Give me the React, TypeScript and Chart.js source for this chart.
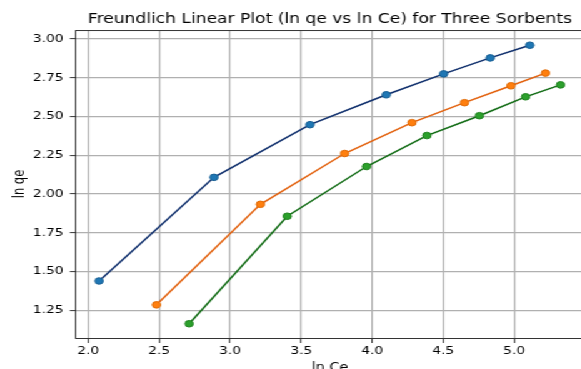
import React, { useEffect, useRef } from "react";
import { Chart, registerables } from "chart.js";

Chart.register(...registerables);

const titleText = "Freundlich Linear Plot (ln qe vs ln Ce) for Three Sorbents";
const xLabel = "ln Ce";
const yLabel = "ln qe";

const xTicks = [2.0, 2.5, 3.0, 3.5, 4.0, 4.5, 5.0];
const yTicks = [1.25, 1.5, 1.75, 2.0, 2.25, 2.5, 2.75, 3.0];

const seriesNames = ["Sorbent 1", "Sorbent 2", "Sorbent 3"];
const blueX = [2.077, 2.886, 3.562, 4.099, 4.503, 4.831, 5.11];
const blueY = [1.438, 2.107, 2.447, 2.64, 2.775, 2.878, 2.96];
const orangeX = [2.481, 3.213, 3.806, 4.28, 4.65, 4.977, 5.22];
const orangeY = [1.284, 1.933, 2.261, 2.46, 2.589, 2.698, 2.78];
const greenX = [2.711, 3.402, 3.96, 4.385, 4.755, 5.08, 5.326];
const greenY = [1.162, 1.856, 2.177, 2.377, 2.505, 2.627, 2.704];

const FONT = "DejaVu Sans";
const STRETCH = 1.25;

const pts = (xs: number[], ys: number[]) => xs.map((x, i) => ({ x, y: ys[i] }));

const topSpine = {
  id: "topSpine",
  beforeDatasetsDraw(chart: any) {
    const { ctx, chartArea } = chart;
    ctx.save();
    ctx.strokeStyle = "#333";
    ctx.lineWidth = 1;
    ctx.beginPath();
    ctx.moveTo(chartArea.left, chartArea.top + 0.5);
    ctx.lineTo(chartArea.right, chartArea.top + 0.5);
    ctx.stroke();
    ctx.restore();
  },
};

export default function App() {
  const ref = useRef<HTMLCanvasElement>(null);
  useEffect(() => {
    if (!ref.current) return;
    const mk = (label: string, data: any, line: string, fill: string, edge: string) => ({
      label,
      data,
      borderColor: line,
      backgroundColor: fill,
      pointBackgroundColor: fill,
      pointBorderColor: edge,
      pointBorderWidth: 1,
      pointRadius: 3.3,
      borderWidth: 1.5,
      showLine: true,
      fill: false,
    });
    const chart = new Chart(ref.current, {
      type: "scatter",
      data: {
        datasets: [
          mk(seriesNames[0], pts(blueX, blueY), "#0d2d6b", "#1f77b4", "#185f94"),
          mk(seriesNames[1], pts(orangeX, orangeY), "#e2600c", "#ff7f0e", "#e06a05"),
          mk(seriesNames[2], pts(greenX, greenY), "#0f6a12", "#2ca02c", "#1e821e"),
        ],
      },
      options: {
        responsive: false,
        animation: false,
        devicePixelRatio: 1,
        layout: { padding: 0 },
        plugins: {
          legend: { display: false },
          tooltip: { enabled: false },
          title: {
            display: true,
            text: titleText,
            color: "#000",
            fullSize: false,
            font: { family: FONT, size: 13.7, weight: "normal" },
            padding: { top: 10.8, bottom: 2.8 },
          },
        },
        scales: {
          x: {
            type: "linear",
            min: 1.915,
            max: 5.49,
            afterBuildTicks: (s: any) => {
              s.ticks = xTicks.map((v) => ({ value: v }));
            },
            afterFit: (s: any) => {
              s.height = 42;
            },
            ticks: {
              color: "#000",
              font: { family: FONT, size: 11 },
              padding: 2,
              maxRotation: 0,
              callback: (v: any) => Number(v).toFixed(1),
            },
            grid: {
              color: "#b0b0b0",
              lineWidth: 1.2,
              tickLength: 5,
              tickColor: "#333",
              tickWidth: 1,
            },
            border: { display: true, color: "#333", width: 1 },
            title: {
              display: true,
              text: xLabel,
              color: "#000",
              font: { family: FONT, size: 11.5 },
              padding: { top: 0, bottom: 5.5 },
            },
          },
          y: {
            type: "linear",
            min: 1.07,
            max: 3.058,
            afterBuildTicks: (s: any) => {
              s.ticks = yTicks.map((v) => ({ value: v }));
            },
            afterFit: (s: any) => {
              s.width = 60.8;
            },
            ticks: {
              color: "#000",
              font: { family: FONT, size: 11 },
              padding: 5,
              callback: (v: any) => Number(v).toFixed(2),
            },
            grid: {
              color: "#b0b0b0",
              lineWidth: 1.2,
              tickLength: 5,
              tickColor: "#333",
              tickWidth: 1,
            },
            border: { display: true, color: "#333", width: 1 },
            title: {
              display: true,
              text: yLabel,
              color: "#000",
              font: { family: FONT, size: 11.5 },
              padding: { top: 9.1, bottom: 0 },
            },
          },
        },
      },
      plugins: [topSpine],
    } as any);
    return () => chart.destroy();
  }, []);
  return (
    <div
      style={{
        position: "fixed",
        left: 0,
        top: 0,
        transform: `scaleX(${STRETCH})`,
        transformOrigin: "0 0",
        background: "#fff",
      }}
    >
      <canvas ref={ref} width={472} height={380} style={{ display: "block" }} />
    </div>
  );
}
